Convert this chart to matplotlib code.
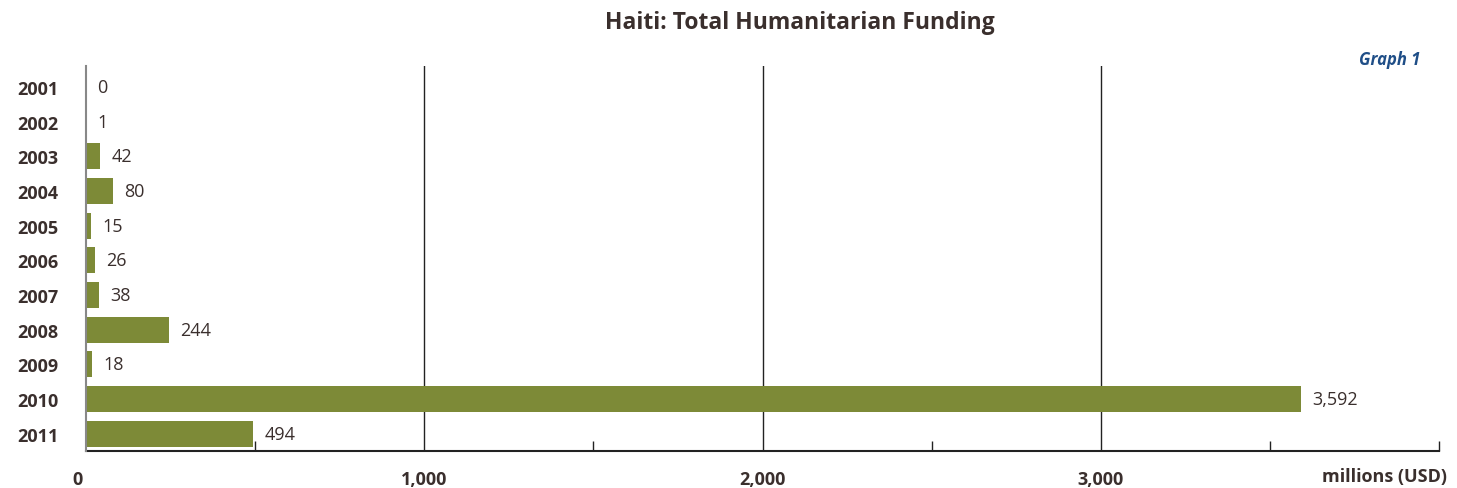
import matplotlib
matplotlib.use("Agg")
import matplotlib.pyplot as plt
import matplotlib.transforms as mtransforms
import numpy as np

years = ["2001", "2002", "2003", "2004", "2005", "2006",
         "2007", "2008", "2009", "2010", "2011"]
funding = [0, 1, 42, 80, 15, 26, 38, 244, 18, 3592, 494]
major_ticks = [0, 1000, 2000, 3000]
major_labels = ["0", "1,000", "2,000", "3,000"]

bar_color = "#7d8a37"
text_color = "#3a2f2d"

plt.rcParams['font.family'] = ['Open Sans', 'DejaVu Sans']

fig = plt.figure(figsize=(14.57, 4.89), dpi=100)
ax = fig.add_axes([0.059, 0.0757, 0.9287, 0.787])

y_pos = np.arange(len(years))
ax.barh(y_pos, funding, height=0.75, color=bar_color, zorder=3)

for i, v in enumerate(funding):
    ax.text(v + 34, i, "{:,}".format(v), va="center", ha="left",
            fontsize=13, color=text_color, zorder=4)

ax.set_ylim(len(years) - 0.5, -0.6)
ax.set_xlim(0, 4000)
ax.set_yticks(y_pos)
ax.set_yticklabels(years, fontsize=13, fontweight="bold", color=text_color)
ax.tick_params(axis="y", length=0, pad=20)

ax.set_xticks(major_ticks)
ax.set_xticklabels(major_labels, fontsize=13, fontweight="bold", color=text_color)
ax.set_xticks([500, 1500, 2500, 3500, 4000], minor=True)
ax.tick_params(axis="x", which="major", direction="in", length=0, pad=14)
ax.tick_params(axis="x", which="minor", direction="in", length=7, width=1, color="#222222")

# nudge the "0" label a bit to the left
zero = ax.get_xticklabels()[0]
shift = mtransforms.ScaledTranslation(-6 / 72, 0, fig.dpi_scale_trans)
zero.set_transform(zero.get_transform() + shift)

# vertical reference lines at each thousand
for x in major_ticks[1:]:
    ax.axvline(x, color="#222222", linewidth=1, zorder=1)

for s in ["top", "right"]:
    ax.spines[s].set_visible(False)
ax.spines["left"].set_color("#888888")
ax.spines["left"].set_linewidth(1.5)
ax.spines["left"].set_zorder(5)
ax.spines["bottom"].set_color("#222222")
ax.spines["bottom"].set_linewidth(1.5)

fig.text(0.549, 0.952, "Haiti: Total Humanitarian Funding", ha="center", va="center",
         fontsize=16.5, fontweight="bold", color=text_color)
fig.text(0.975, 0.877, "Graph 1", ha="right", va="center", fontsize=12,
         fontweight="bold", fontstyle="italic", color="#1f4e87")
fig.text(0.993, 0.025, "millions (USD)", ha="right", va="center", fontsize=13,
         fontweight="bold", color=text_color)

fig.savefig("out.png", dpi=100)
